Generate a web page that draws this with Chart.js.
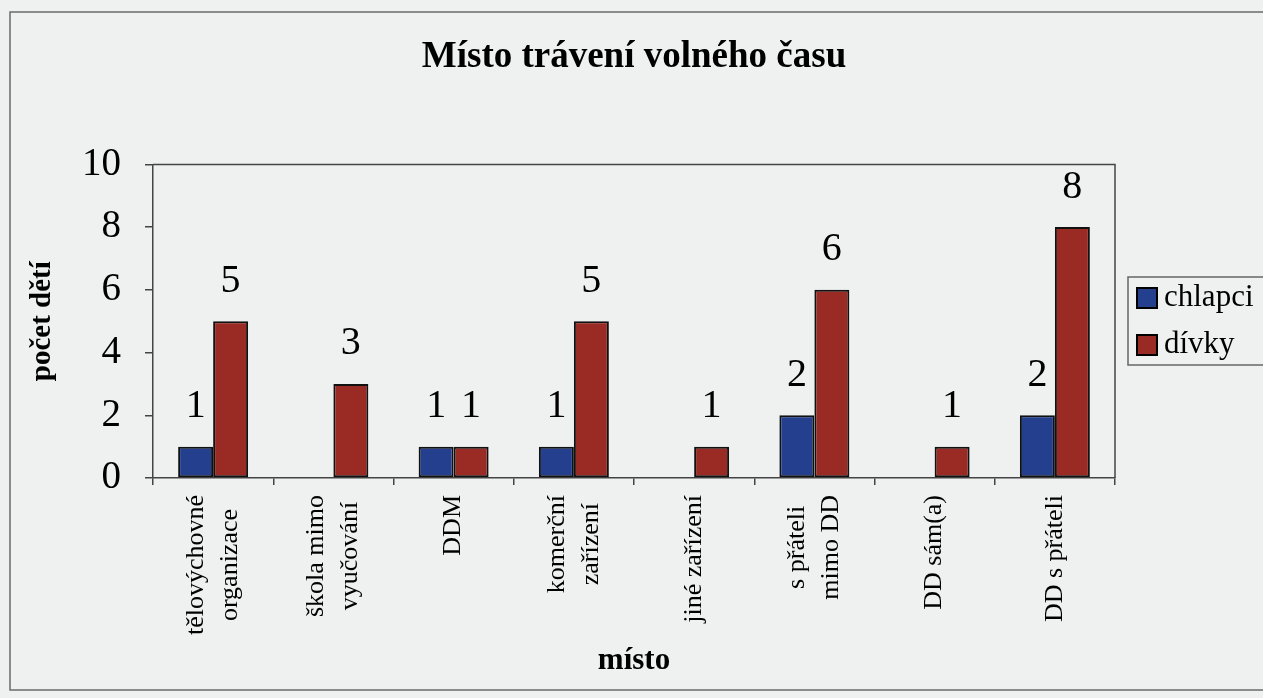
<!DOCTYPE html>
<html>
<head>
<meta charset="utf-8">
<script src="https://cdn.jsdelivr.net/npm/chart.js@4/dist/chart.umd.min.js"></script>
<style>
  html, body { margin: 0; padding: 0; background: #eff1f0; }
  #wrap { width: 1263px; height: 698px; }
</style>
</head>
<body>
<div id="wrap"><canvas id="chart" width="1263" height="698"></canvas></div>
<script>
// data
const places = [['tělovýchovné', 'organizace'], ['škola mimo', 'vyučování'], 'DDM', ['komerční', 'zařízení'],
    'jiné zařízení', ['s přáteli', 'mimo DD'], 'DD sám(a)', 'DD s přáteli'];
const boys = [1, 0, 1, 1, 0, 2, 0, 2];
const girls = [5, 3, 1, 5, 1, 6, 1, 8];
const seriesNames = ['chlapci', 'dívky'];
const seriesColors = ['#233f8e', '#9a2b24'];
const yMax = 10;
const yStep = 2;

const serif = 'Liberation Serif';

// page background + outer frame
const framePlugin = {
    id: 'frame',
    beforeDraw(chart) {
        const ctx = chart.ctx;
        ctx.save();
        ctx.fillStyle = '#eff1f0';
        ctx.fillRect(0, 0, chart.width, chart.height);
        ctx.strokeStyle = '#6a6a6a';
        ctx.lineWidth = 1.5;
        ctx.beginPath();
        ctx.moveTo(chart.width, 12);
        ctx.lineTo(10, 12);
        ctx.lineTo(10, 690);
        ctx.lineTo(chart.width, 690);
        ctx.stroke();
        ctx.restore();
    },
    afterDraw(chart) {
        // top and right edges of the plot area
        const { top, right, left, bottom } = chart.chartArea;
        const ctx = chart.ctx;
        ctx.save();
        ctx.strokeStyle = '#444';
        ctx.lineWidth = 1.5;
        ctx.beginPath();
        ctx.moveTo(left, top);
        ctx.lineTo(right, top);
        ctx.lineTo(right, bottom);
        ctx.stroke();
        ctx.restore();
    }
};

// value labels above bars
const valueLabels = {
    id: 'valueLabels',
    afterDatasetsDraw(chart) {
        const ctx = chart.ctx;
        ctx.save();
        ctx.font = '40px "' + serif + '"';
        ctx.fillStyle = '#000';
        ctx.textAlign = 'center';
        ctx.textBaseline = 'middle';
        chart.data.datasets.forEach((ds, i) => {
            chart.getDatasetMeta(i).data.forEach((bar, j) => {
                const v = ds.data[j];
                if (!v) return;
                ctx.fillText(String(v), bar.x, bar.y - 40);
            });
        });
        ctx.restore();
    }
};

// category labels, rotated, lines centred on each other (like the original)
const categoryLabels = {
    id: 'categoryLabels',
    afterDraw(chart) {
        const ctx = chart.ctx;
        const xScale = chart.scales.x;
        const y0 = chart.chartArea.bottom + 17;
        const gap = 34;
        ctx.save();
        ctx.font = '26px "' + serif + '"';
        ctx.fillStyle = '#000';
        ctx.textAlign = 'center';
        ctx.textBaseline = 'middle';
        chart.data.labels.forEach((lab, i) => {
            const lines = Array.isArray(lab) ? lab : [lab];
            const maxW = Math.max(...lines.map(l => ctx.measureText(l).width));
            const x = xScale.getPixelForTick(i);
            lines.forEach((line, k) => {
                const off = (k - (lines.length - 1) / 2) * gap;
                ctx.save();
                ctx.translate(x + off, y0 + maxW / 2);
                ctx.rotate(-Math.PI / 2);
                ctx.fillText(line, 0, 0);
                ctx.restore();
            });
        });
        ctx.restore();
    }
};

// boxed legend on the right
const boxLegend = {
    id: 'boxLegend',
    afterDraw(chart) {
        const ctx = chart.ctx;
        const bx = 1128, by = 277, bh = 88;
        ctx.save();
        ctx.strokeStyle = '#666';
        ctx.lineWidth = 1.5;
        ctx.strokeRect(bx, by, chart.width - bx + 5, bh);
        ctx.font = '31px "' + serif + '"';
        ctx.textAlign = 'left';
        ctx.textBaseline = 'middle';
        chart.data.datasets.forEach((ds, i) => {
            const y = by + 11 + i * 47;
            ctx.fillStyle = ds.backgroundColor;
            ctx.fillRect(bx + 9, y, 20, 20);
            ctx.strokeStyle = '#000';
            ctx.lineWidth = 2;
            ctx.strokeRect(bx + 9, y, 20, 20);
            ctx.fillStyle = '#000';
            ctx.fillText(ds.label, bx + 36, y + 10);
        });
        ctx.restore();
    }
};

new Chart(document.getElementById('chart'), {
    type: 'bar',
    data: {
        labels: places,
        datasets: [
            { label: seriesNames[0], data: boys, backgroundColor: seriesColors[0] },
            { label: seriesNames[1], data: girls, backgroundColor: seriesColors[1] }
        ]
    },
    options: {
        responsive: false,
        animation: false,
        devicePixelRatio: 1,
        layout: { padding: { left: 12, right: 148, top: 0, bottom: 10 } },
        datasets: {
            bar: {
                borderColor: '#111',
                borderWidth: 2,
                borderSkipped: false,
                barPercentage: 1,
                categoryPercentage: 0.582
            }
        },
        plugins: {
            legend: { display: false },
            tooltip: { enabled: false },
            title: {
                display: true,
                fullSize: false,
                text: 'Místo trávení volného času',
                color: '#000',
                font: { family: serif, size: 37, weight: 'bold', lineHeight: 1.2 },
                padding: { top: 35, bottom: 85 }
            }
        },
        scales: {
            x: {
                afterFit(scale) { scale.height = 210; },
                grid: { drawOnChartArea: false, drawTicks: true, tickLength: 7, color: '#444', lineWidth: 1.5 },
                border: { display: true, color: '#444', width: 1.5 },
                ticks: { display: false },
                title: {
                    display: true,
                    text: 'místo',
                    color: '#000',
                    font: { family: serif, size: 31, weight: 'bold', lineHeight: 1.2 },
                    padding: { top: 0, bottom: 8 }
                }
            },
            y: {
                min: 0,
                max: yMax,
                afterFit(scale) { scale.width = 141; },
                grid: { drawOnChartArea: false, drawTicks: true, tickLength: 8, color: '#444', lineWidth: 1.5 },
                border: { display: true, color: '#444', width: 1.5 },
                ticks: {
                    stepSize: yStep,
                    color: '#000',
                    padding: 24,
                    font: { family: serif, size: 39 }
                },
                title: {
                    display: true,
                    text: 'počet dětí',
                    color: '#000',
                    font: { family: serif, size: 29, weight: 'bold', lineHeight: 1.2 },
                    padding: { top: 13, bottom: 0 }
                }
            }
        }
    },
    plugins: [framePlugin, valueLabels, categoryLabels, boxLegend]
});
</script>
</body>
</html>
